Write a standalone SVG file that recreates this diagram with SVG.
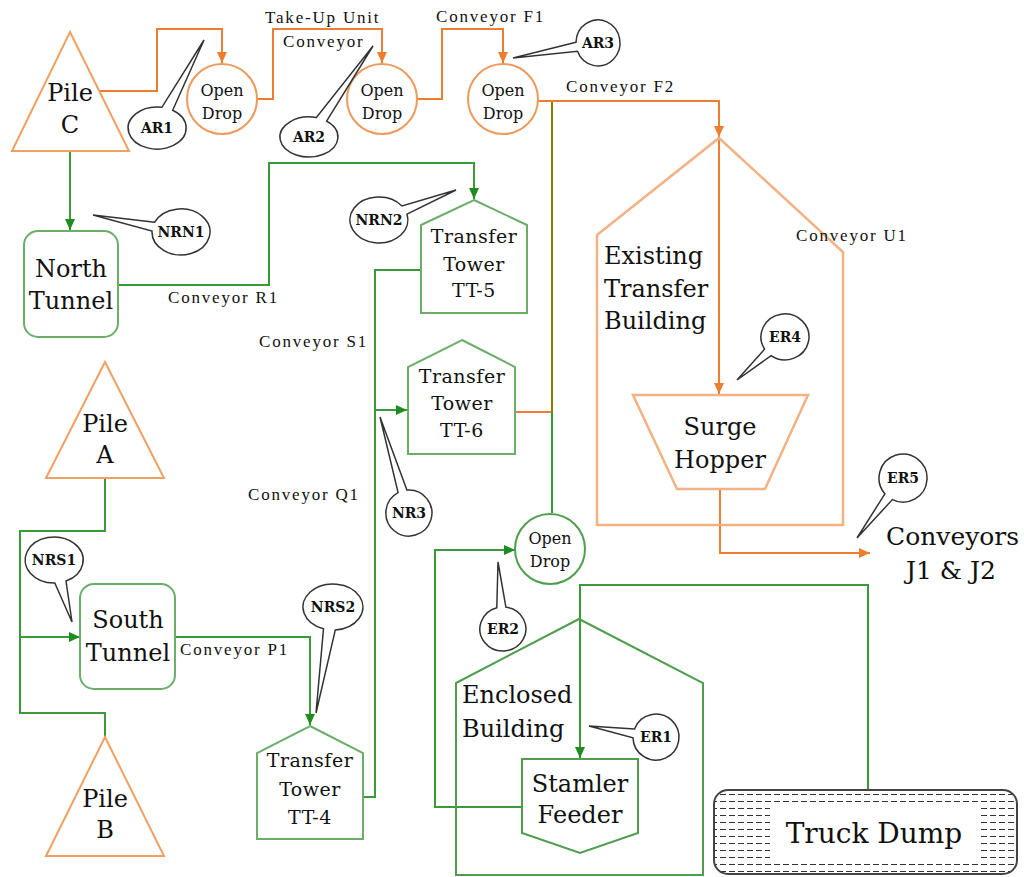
<svg xmlns="http://www.w3.org/2000/svg" width="1024" height="877" viewBox="0 0 1024 877">
<defs>
<marker id="ao" markerUnits="userSpaceOnUse" markerWidth="11" markerHeight="11" refX="11" refY="5" orient="auto"><path d="M0,0 L11,5 L0,10 z" fill="#ED7D31"/></marker>
<marker id="ag" markerUnits="userSpaceOnUse" markerWidth="11" markerHeight="11" refX="11" refY="5" orient="auto"><path d="M0,0 L11,5 L0,10 z" fill="#1E8C1E"/></marker>
<pattern id="dash" patternUnits="userSpaceOnUse" width="9" height="7"><line x1="0" y1="3.5" x2="6" y2="3.5" stroke="#333" stroke-width="1"/></pattern>
<style>
.big{font-family:"DejaVu Serif",serif;font-size:24px;fill:#111;text-anchor:middle}
.bigl{font-family:"DejaVu Serif",serif;font-size:24px;fill:#111}
.mid{font-family:"DejaVu Serif",serif;font-size:19px;fill:#111;text-anchor:middle;letter-spacing:0.5px}
.od{font-family:"DejaVu Serif",serif;font-size:16px;fill:#111;text-anchor:middle}
.lbl{font-family:"Liberation Serif",serif;font-size:17px;fill:#111;letter-spacing:1.8px}
.co{font-family:"DejaVu Serif",serif;font-size:14px;font-weight:bold;fill:#111;text-anchor:middle}
.oc{fill:none;stroke:#ED7D31;stroke-width:2}
.gc{fill:none;stroke:#3A9A3A;stroke-width:2}
.pile{fill:#fff;stroke:#F0A062;stroke-width:2}
.odrop{fill:#fff;stroke:#EE9A5E;stroke-width:2}
.gnode{fill:#fff;stroke:#6AAE6A;stroke-width:2}
.bld{fill:none;stroke:#F4B183;stroke-width:2.5}
.gbld{fill:none;stroke:#4E9E4E;stroke-width:2}
.call{fill:#fff;stroke:#333;stroke-width:1.5}
</style>
</defs>
<rect width="1024" height="877" fill="#fff"/>

<g id="connectors">
<path class="oc" d="M99,91 H157 V29 H222 V63" marker-end="url(#ao)"/>
<path class="oc" d="M256,99 H273 V29 H382 V63" marker-end="url(#ao)"/>
<path class="oc" d="M417,99 H442 V29 H503 V63" marker-end="url(#ao)"/>
<path class="oc" d="M538,101 H719 V137" stroke-width="3" marker-end="url(#ao)"/>
<path class="oc" d="M719,138 V394" marker-end="url(#ao)"/>
<path class="oc" d="M720,489 V553 H870" marker-end="url(#ao)"/>
<path class="oc" d="M515,412 H552" stroke-width="1.5"/>
<path d="M552,102 V412" fill="none" stroke="#8B7D00" stroke-width="2"/>
<path class="gc" d="M552,412 V513"/>
<path class="gc" d="M70,151 V230" marker-end="url(#ag)"/>
<path class="gc" d="M118,285 H269 V163 H474 V199" marker-end="url(#ag)"/>
<path class="gc" d="M421,270 H375 V797 H363"/>
<path class="gc" d="M375,410 H407" marker-end="url(#ag)"/>
<path class="gc" d="M105,479 V531 H20 V713 H105 V737"/>
<path class="gc" d="M20,637 H80" marker-end="url(#ag)"/>
<path class="gc" d="M175,637 H310 V725" marker-end="url(#ag)"/>
<path class="gc" d="M522,807 H435 V550 H515" marker-end="url(#ag)"/>
<path class="gc" d="M868,790 V585 H580 V758" marker-end="url(#ag)"/>
</g>

<g id="pile-c"><polygon class="pile" points="70,32 129,151 12,151"/><text class="big" x="70" y="101">Pile</text><text class="big" x="70" y="133">C</text></g>
<g id="pile-a"><polygon class="pile" points="105,362 164,478 46,478"/><text class="big" x="105" y="432">Pile</text><text class="big" x="105" y="463">A</text></g>
<g id="pile-b"><polygon class="pile" points="105,737 164,856 46,856"/><text class="big" x="105" y="807">Pile</text><text class="big" x="105" y="838">B</text></g>

<g id="open-drop-1"><circle class="odrop" cx="222" cy="99" r="35"/><text class="od" x="222" y="96">Open</text><text class="od" x="222" y="119">Drop</text></g>
<g id="open-drop-2"><circle class="odrop" cx="382" cy="99" r="35"/><text class="od" x="382" y="96">Open</text><text class="od" x="382" y="119">Drop</text></g>
<g id="open-drop-3"><circle class="odrop" cx="503" cy="99" r="35"/><text class="od" x="503" y="96">Open</text><text class="od" x="503" y="119">Drop</text></g>

<g id="north-tunnel"><rect class="gnode" x="24" y="231" width="94" height="106" rx="14"/><text class="big" x="71" y="277">North</text><text class="big" x="71" y="309">Tunnel</text></g>
<g id="south-tunnel"><rect class="gnode" x="80" y="584" width="95" height="105" rx="14"/><text class="big" x="128" y="628">South</text><text class="big" x="128" y="661">Tunnel</text></g>

<g id="tt5"><polygon class="gnode" points="474,200 527,225 527,313 421,313 421,225"/><text class="mid" x="474" y="243">Transfer</text><text class="mid" x="474" y="271">Tower</text><text class="mid" x="474" y="297">TT-5</text></g>
<g id="tt6"><polygon class="gnode" points="462,340 515,367 515,454 408,454 408,367"/><text class="mid" x="462" y="383">Transfer</text><text class="mid" x="462" y="410">Tower</text><text class="mid" x="462" y="437">TT-6</text></g>
<g id="tt4"><polygon class="gnode" points="310,726 363,753 363,839 257,839 257,753"/><text class="mid" x="310" y="767">Transfer</text><text class="mid" x="310" y="796">Tower</text><text class="mid" x="310" y="824">TT-4</text></g>

<g id="existing-transfer-building"><polygon class="bld" points="597,235 719,138 843,252 843,525 597,525"/><text class="bigl" x="604" y="264">Existing</text><text class="bigl" x="604" y="297">Transfer</text><text class="bigl" x="604" y="329">Building</text></g>
<g id="surge-hopper"><polygon fill="#fff" stroke="#F4B183" stroke-width="2.5" points="633,395 808,395 765,489 677,489"/><text class="big" x="720" y="435">Surge</text><text class="big" x="720" y="468">Hopper</text></g>
<g id="conveyors-j1-j2"><text class="bigl" x="886" y="545" style="font-size:25px">Conveyors</text><text class="big" x="951" y="579" style="font-size:25px">J1 &amp; J2</text></g>

<g id="open-drop-green"><circle cx="550" cy="549" r="35" fill="#fff" stroke="#4E9E4E" stroke-width="2"/><text class="od" x="550" y="544">Open</text><text class="od" x="550" y="567">Drop</text></g>

<g id="enclosed-building"><polygon class="gbld" points="456,683 579,619 703,683 703,875 456,875"/><text class="bigl" x="462" y="703">Enclosed</text><text class="bigl" x="462" y="737">Building</text></g>
<g id="stamler-feeder"><polygon fill="#fff" stroke="#4E9E4E" stroke-width="2" points="522,759 638,759 638,833 580,853 522,833"/><text class="big" x="580" y="792">Stamler</text><text class="big" x="580" y="823">Feeder</text></g>

<g id="truck-dump"><rect x="714" y="790" width="303" height="84" rx="14" fill="url(#dash)" stroke="#444" stroke-width="2"/><rect x="770" y="808" width="208" height="52" fill="#fff"/><text class="big" x="874" y="843" style="font-size:28px">Truck Dump</text></g>

<g id="labels">
<text class="lbl" x="265" y="23">Take-Up Unit</text>
<text class="lbl" x="283" y="47">Conveyor</text>
<text class="lbl" x="436" y="22">Conveyor F1</text>
<text class="lbl" x="566" y="92">Conveyor F2</text>
<text class="lbl" x="796" y="241">Conveyor U1</text>
<text class="lbl" x="168" y="303">Conveyor R1</text>
<text class="lbl" x="259" y="347">Conveyor S1</text>
<text class="lbl" x="248" y="500">Conveyor Q1</text>
<text class="lbl" x="180" y="655">Conveyor P1</text>
</g>

<g id="callout-ar1"><path class="call" d="M172.7,110.3 L204,40 L161.9,107.3 A29,21 0 1 0 172.7,110.3 Z"/><text class="co" x="157" y="133">AR1</text></g>
<g id="callout-ar2"><path class="call" d="M326.6,121.1 L373,46 L316.2,117.6 A29,20 0 1 0 326.6,121.1 Z"/><text class="co" x="309" y="142">AR2</text></g>
<g id="callout-ar3"><path class="call" d="M576.0,42.3 L513,58 L577.5,51.3 A22,23 0 1 0 576.0,42.3 Z"/><text class="co" x="598" y="48">AR3</text></g>
<g id="callout-nrn1"><path class="call" d="M154.7,222.2 L93,215 L152.0,231.1 A29,23 0 1 0 154.7,222.2 Z"/><text class="co" x="181" y="237">NRN1</text></g>
<g id="callout-nrn2"><path class="call" d="M407.0,214.2 L456,190 L402.0,206.0 A29,23 0 1 0 407.0,214.2 Z"/><text class="co" x="379" y="225">NRN2</text></g>
<g id="callout-nr3"><path class="call" d="M406.9,490.1 L380,417 L398.1,492.7 A23,23 0 1 0 406.9,490.1 Z"/><text class="co" x="409" y="518">NR3</text></g>
<g id="callout-nrs1"><path class="call" d="M54.8,583.0 L72,622 L66.0,581.0 A29,23 0 1 0 54.8,583.0 Z"/><text class="co" x="54" y="565">NRS1</text></g>
<g id="callout-nrs2"><path class="call" d="M323.5,628.8 L316,713 L335.3,629.9 A30,23 0 1 0 323.5,628.8 Z"/><text class="co" x="333" y="612">NRS2</text></g>
<g id="callout-er2"><path class="call" d="M505.9,607.2 L498,562 L496.8,607.8 A23,22 0 1 0 505.9,607.2 Z"/><text class="co" x="503" y="634">ER2</text></g>
<g id="callout-er1"><path class="call" d="M634.5,728.9 L589,726 L633.0,737.9 A23,23 0 1 0 634.5,728.9 Z"/><text class="co" x="656" y="742">ER1</text></g>
<g id="callout-er4"><path class="call" d="M764.6,349.1 L737,380 L771.1,355.7 A24,23 0 1 0 764.6,349.1 Z"/><text class="co" x="785" y="342">ER4</text></g>
<g id="callout-er5"><path class="call" d="M884.9,493.8 L857,538 L892.4,499.6 A24,24 0 1 0 884.9,493.8 Z"/><text class="co" x="903" y="483">ER5</text></g>
</svg>
